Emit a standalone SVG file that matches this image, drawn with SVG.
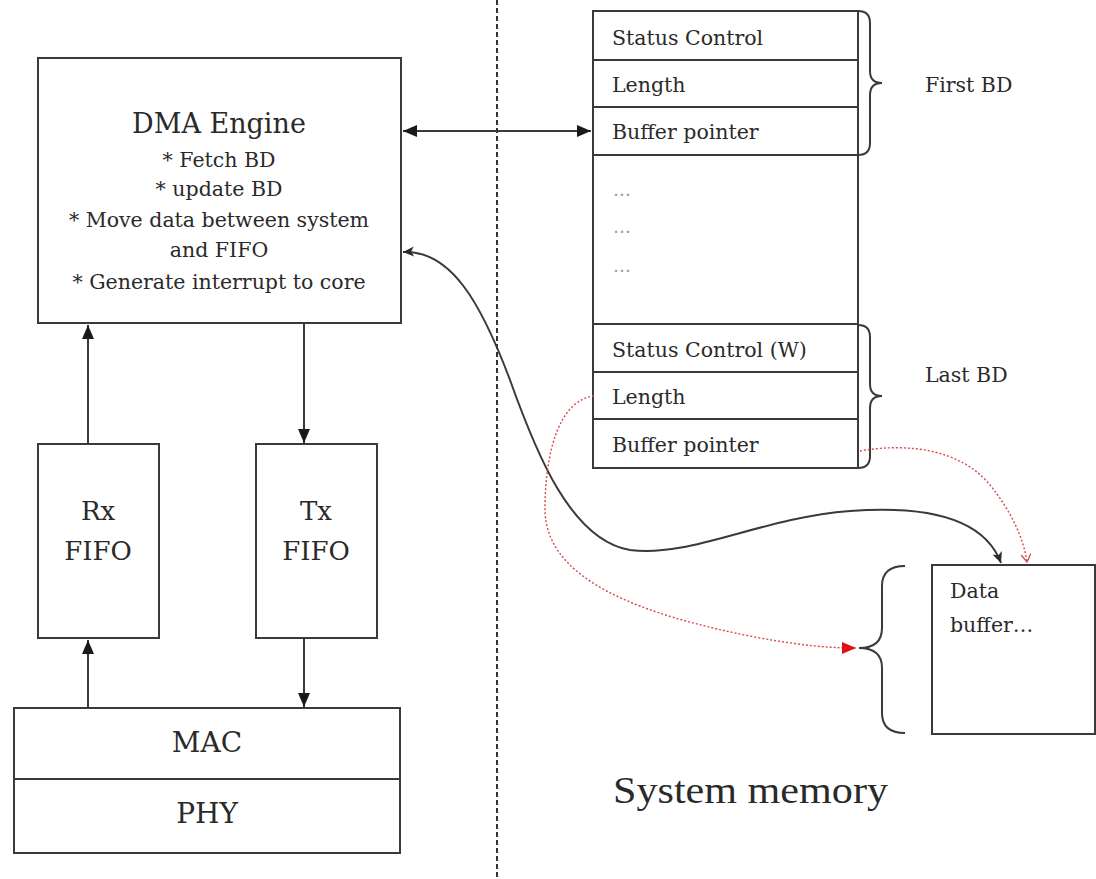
<svg xmlns="http://www.w3.org/2000/svg" width="1096" height="879" viewBox="0 0 1096 879">
<style>
.box{fill:#fff;stroke:#3a3a3a;stroke-width:2}
.ln{fill:none;stroke:#3a3a3a;stroke-width:2}
.t{font-family:"DejaVu Serif","Liberation Serif",serif;fill:#2a2a2a}
.c{text-anchor:middle}
.red{fill:none;stroke:#d8484a;stroke-width:1.4;stroke-dasharray:2 2}
.dots{font-family:"DejaVu Serif",serif;fill:#9a9a9a;font-size:18px}
</style>
<defs>
<marker id="ab" markerUnits="userSpaceOnUse" markerWidth="16" markerHeight="14" refX="14" refY="6" orient="auto-start-reverse">
<path d="M0,0 L14,6 L0,12 z" fill="#1a1a1a"/>
</marker>
<marker id="as" markerUnits="userSpaceOnUse" markerWidth="14" markerHeight="12" refX="11" refY="5" orient="auto-start-reverse">
<path d="M0,0 L11,5 L0,10 L3,5 z" fill="#2a2a2a"/>
</marker>
<marker id="ar" markerUnits="userSpaceOnUse" markerWidth="16" markerHeight="14" refX="14" refY="6" orient="auto">
<path d="M0,0 L14,6 L0,12 z" fill="#e01010"/>
</marker>
<marker id="ac" markerUnits="userSpaceOnUse" markerWidth="12" markerHeight="12" refX="8" refY="5" orient="auto">
<path d="M0,0 L8,5 L0,10" fill="none" stroke="#d8484a" stroke-width="1.3"/>
</marker>
</defs>
<rect width="1096" height="879" fill="#fff"/>

<line x1="497" y1="0" x2="497" y2="879" stroke="#333" stroke-width="2" stroke-dasharray="5 3"/>

<g id="dma">
<rect class="box" x="38" y="58" width="363" height="265"/>
<text class="t c" x="219" y="133" font-size="27">DMA Engine</text>
<text class="t c" x="219" y="167" font-size="20.5">* Fetch BD</text>
<text class="t c" x="219" y="196" font-size="20.5">* update BD</text>
<text class="t c" x="219" y="227" font-size="20.5">* Move data between system</text>
<text class="t c" x="219" y="257" font-size="20.5">and FIFO</text>
<text class="t c" x="219" y="289" font-size="20.5">* Generate interrupt to core</text>
</g>

<g id="rxfifo">
<rect class="box" x="38" y="444" width="121" height="194"/>
<text class="t c" x="98" y="520" font-size="26">Rx</text>
<text class="t c" x="98" y="560" font-size="26">FIFO</text>
</g>

<g id="txfifo">
<rect class="box" x="256" y="444" width="121" height="194"/>
<text class="t c" x="316" y="520" font-size="26">Tx</text>
<text class="t c" x="316" y="560" font-size="26">FIFO</text>
</g>

<g id="macphy">
<rect class="box" x="14" y="708" width="386" height="145"/>
<line class="ln" x1="14" y1="779" x2="400" y2="779"/>
<text class="t c" x="207" y="752" font-size="28">MAC</text>
<text class="t c" x="207" y="823" font-size="28">PHY</text>
</g>

<g id="bdtable">
<rect class="box" x="593" y="11" width="265" height="457"/>
<line class="ln" x1="593" y1="60" x2="858" y2="60"/>
<line class="ln" x1="593" y1="107" x2="858" y2="107"/>
<line class="ln" x1="593" y1="155" x2="858" y2="155"/>
<line class="ln" x1="593" y1="324" x2="858" y2="324"/>
<line class="ln" x1="593" y1="372" x2="858" y2="372"/>
<line class="ln" x1="593" y1="419" x2="858" y2="419"/>
<text class="t" x="612" y="45" font-size="20.5">Status Control</text>
<text class="t" x="612" y="92" font-size="20.5">Length</text>
<text class="t" x="612" y="139" font-size="20.5">Buffer pointer</text>
<text class="dots" x="613" y="196">…</text>
<text class="dots" x="613" y="233">…</text>
<text class="dots" x="613" y="272">…</text>
<text class="t" x="612" y="357" font-size="20.5">Status Control (W)</text>
<text class="t" x="612" y="404" font-size="20.5">Length</text>
<text class="t" x="612" y="452" font-size="20.5">Buffer pointer</text>
</g>

<g id="firstbd">
<path class="ln" stroke-width="1.6" d="M858,11 Q870,11 870,23 L870,71 Q870,83 882,83 Q870,83 870,95 L870,143 Q870,155 858,155"/>
<text class="t" x="925" y="92" font-size="20.5">First BD</text>
</g>

<g id="lastbd">
<path class="ln" stroke-width="1.6" d="M858,325 Q870,325 870,337 L870,384 Q870,396 882,396 Q870,396 870,408 L870,456 Q870,468 858,468"/>
<text class="t" x="925" y="382" font-size="20.5">Last BD</text>
</g>

<g id="databuffer">
<rect class="box" x="932" y="565" width="163" height="169"/>
<path class="ln" stroke-width="1.6" d="M905,566 Q882,566 882,586 L882,628 Q882,648 859,648 Q882,648 882,668 L882,713 Q882,733 905,733"/>
<text class="t" x="950" y="598" font-size="20.5">Data</text>
<text class="t" x="950" y="632" font-size="20.5">buffer…</text>
</g>

<text class="t" x="613" y="803" font-size="37" font-family="Liberation Serif" style="font-family:'Liberation Serif',serif" textLength="275" lengthAdjust="spacingAndGlyphs">System memory</text>

<g id="connectors">
<line class="ln" x1="403" y1="131" x2="591" y2="131" marker-start="url(#ab)" marker-end="url(#ab)"/>
<line class="ln" x1="88" y1="444" x2="88" y2="325" marker-end="url(#ab)"/>
<line class="ln" x1="304" y1="323" x2="304" y2="443" marker-end="url(#ab)"/>
<line class="ln" x1="88" y1="708" x2="88" y2="640" marker-end="url(#ab)"/>
<line class="ln" x1="304" y1="638" x2="304" y2="707" marker-end="url(#ab)"/>
<path class="ln" d="M403,252 C450,250 480,300 510,380 C535,450 570,540 630,550 C690,558 760,518 850,511 C930,505 985,520 1001,563" marker-start="url(#as)" marker-end="url(#as)"/>
<path class="red" d="M594,396 C560,400 545,450 545,510 C546,580 640,615 760,638 C800,645 825,648 856,648" marker-end="url(#ar)"/>
<path class="red" d="M860,451 C905,443 960,448 990,485 C1012,512 1024,540 1027,562" marker-end="url(#ac)"/>
</g>
</svg>
